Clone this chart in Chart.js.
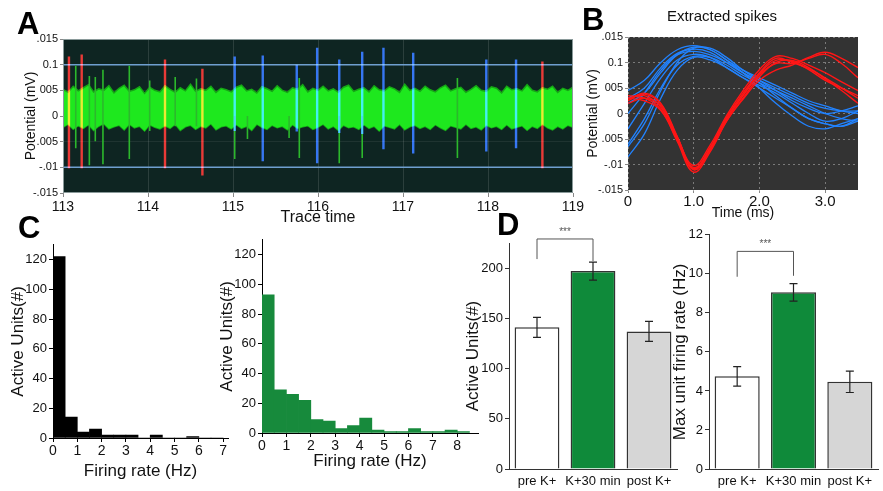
<!DOCTYPE html>
<html>
<head>
<meta charset="utf-8">
<script src="https://cdn.jsdelivr.net/npm/chart.js@4.4.1/dist/chart.umd.min.js"></script>
<style>
body { margin:0; background:#fff; width:883px; height:491px; overflow:hidden; position:relative; font-family:"Liberation Sans", Arial, sans-serif; }
canvas { position:absolute; }
.lbl { position:absolute; font-weight:bold; line-height:1; color:#000; }
.ttl { position:absolute; font-size:15px; line-height:1; color:#111; }
</style>
</head>
<body>
<canvas id="cA" style="left:0;top:30px" width="590" height="200"></canvas>
<canvas id="cB" style="left:580px;top:0" width="303" height="225"></canvas>
<canvas id="cC1" style="left:0;top:235px" width="240" height="255"></canvas>
<canvas id="cC2" style="left:215px;top:230px" width="265" height="255"></canvas>
<canvas id="cD1" style="left:460px;top:225px" width="222" height="266"></canvas>
<canvas id="cD2" style="left:660px;top:225px" width="223" height="266"></canvas>
<div class="lbl" style="left:17px;top:8px;font-size:31px">A</div>
<div class="lbl" style="left:582px;top:4px;font-size:31px">B</div>
<div class="lbl" style="left:18px;top:212px;font-size:31px">C</div>
<div class="lbl" style="left:497px;top:209px;font-size:31px">D</div>
<div class="ttl" style="left:667px;top:8px">Extracted spikes</div>
<script>
// ---- A: raw trace (values in 1e-3 units, labelled as in the figure)
var traceStart = 113, traceEnd = 119;
var traceUpper = [
  5.2,4.6,5.8,4.9,5.5,6.1,4.7,5.3,5.0,5.9,
  4.5,5.4,6.0,4.8,5.1,5.7,4.4,5.6,5.0,4.7,
  5.9,5.2,4.6,5.5,4.9,6.2,4.8,5.3,5.0,5.8,
  4.6,5.4,5.1,4.7,5.6,6.0,4.9,5.2,4.5,5.7,
  5.3,4.8,5.9,5.0,4.6,5.5,5.2,6.1,4.7,5.4,
  5.0,5.8,4.9,5.3,4.6,5.6,6.0,4.8,5.2,5.5,
  4.7,5.9,5.1,4.9,5.7,5.3,4.6,6.2,5.0,5.4,
  4.8,5.8,5.1,4.7,5.5,6.0,4.9,5.3,5.6,4.6,
  5.2,5.9,5.0,4.8,5.7,5.4,4.5,5.8,5.1,5.3,
  4.9,6.1,5.0,4.7,5.5,5.2,5.8,4.6,5.4,5.0,
  5.6];
var traceLower = [
  -2.2,-1.6,-2.6,-1.9,-2.4,-1.7,-2.8,-2.0,-1.5,-2.5,
  -2.1,-1.8,-2.7,-1.6,-2.3,-2.0,-2.9,-1.7,-2.2,-2.5,
  -1.9,-2.4,-1.6,-2.8,-2.1,-1.8,-2.6,-2.0,-2.3,-1.5,
  -2.7,-2.1,-1.9,-2.5,-1.7,-2.4,-2.0,-2.8,-1.6,-2.2,
  -2.6,-1.8,-2.3,-2.0,-2.7,-1.7,-2.4,-2.1,-1.9,-2.6,
  -2.2,-1.6,-2.5,-2.0,-2.8,-1.8,-2.3,-2.1,-2.6,-1.7,
  -2.4,-2.0,-2.9,-1.9,-2.2,-2.5,-1.6,-2.7,-2.1,-1.8,
  -2.4,-2.0,-2.6,-1.7,-2.3,-2.8,-1.9,-2.2,-2.5,-1.6,
  -2.4,-2.1,-2.7,-1.8,-2.3,-2.0,-2.6,-1.7,-2.5,-2.2,
  -1.9,-2.8,-2.0,-2.4,-1.6,-2.3,-2.7,-2.0,-2.5,-1.8,
  -2.2];
var redSpikeT  = [113.07, 113.22, 114.20, 114.64, 118.64];
var redSpikeHi = [11.6, 12.0, 11.0, 9.2, 10.6];
var redSpikeLo = [-10.2, -10.2, -10.2, -11.6, -10.2];
var blueSpikeT  = [115.02, 115.35, 115.75, 115.99, 116.25, 116.52, 116.77, 117.12, 117.98, 118.33];
var blueSpikeHi = [11.6, 11.8, 10.0, 13.3, 11.0, 12.5, 13.3, 12.3, 11.0, 11.0];
var blueSpikeLo = [-2.9, -8.8, -3.0, -9.2, -3.3, -3.5, -6.5, -7.3, -6.9, -6.3];
var greenSpikeT  = [113.15, 113.31, 113.38, 113.47, 113.78, 114.02, 114.32, 114.57, 115.02, 115.17, 115.66, 115.78, 116.25, 116.52, 117.64];
var greenSpikeHi = [9.8, 7.8, 7.6, 9.0, 9.8, 6.9, 7.6, 7.3, 0, 0, 0, 7.4, 0, 0, 7.4];
var greenSpikeLo = [-6.3, -9.6, -4.9, -9.4, -8.4, -2.9, -2.0, -2.0, -8.4, -4.5, -4.3, -8.2, -9.2, -8.2, -8.2];
var thresholds = [10, -10];
var potTicks = [-15, -10, -5, 0, 5, 10, 15];
var potTickText = ['-.015', '-.01', '.005', '0', '005', '0.1', '.015'];

// ---- B: extracted spike waveforms
var spikeTime = [0, 0.25, 0.5, 0.75, 1.0, 1.25, 1.5, 1.75, 2.0, 2.25, 2.5, 2.75, 3.0, 3.25, 3.5];
var blueUnits = [
  [4.5, 6.5, 10, 12.5, 13.3, 12.5, 10.5, 8.5, 7, 5.5, 4, 2.5, 1.5, 0.5, 0],
  [3, 5, 9, 11.8, 12.6, 12, 10, 8, 6.5, 5, 3.5, 2, 1, 0.5, 0.5],
  [-3, 2, 7, 10.5, 11.6, 11, 9, 7, 5.5, 4, 2, 0, -1.5, -1, 0.5],
  [-6, -1, 5, 9.5, 11.2, 11, 9.5, 7.5, 6, 4.5, 3, 1.5, 0, -1, -1.5],
  [-8.5, -4, 3, 8.5, 11, 10.5, 9, 7, 5, 3, 1, -1, -2, -2.5, -1.5],
  [0, 4, 8.5, 11.5, 12.2, 11.5, 10, 8, 5, 2, -0.5, -2.5, -3, -2, -1],
  [-6.5, -2, 4.5, 10, 12.8, 12.8, 11, 8.5, 6.5, 4.5, 2.5, 1, 0, 0.5, 1.5],
  [2, 4, 8, 11.5, 13, 12.5, 10.5, 8, 6, 3.5, 1, -1, -2, -2.5, -1]
];
var redUnits = [
  [3, 3.5, 1.2, -5, -10.8, -6.7, -0.8, 4, 8, 10.8, 10, 8.8, 7, 5, 3],
  [2.5, 4, 2, -4.5, -11, -7, -1.2, 3.5, 7.8, 10.4, 10.2, 8.6, 6.5, 5, 3.5],
  [3.5, 3, 0.8, -5.5, -11.5, -7.5, -1.5, 3, 7.2, 10, 10.4, 9, 6.8, 4.5, 2],
  [2, 3, 1.5, -4.8, -10.2, -6.2, -0.4, 4.5, 8.6, 11.2, 10.8, 9.5, 8, 6.2, 4.5],
  [3, 2.5, 0.6, -5.2, -11, -7.2, -1.5, 2.8, 6.5, 8.5, 9.5, 11, 12, 10.8, 9],
  [2.8, 3.8, 1.8, -4.6, -10.6, -6.8, -1, 3.6, 7.6, 9.8, 9.8, 10.8, 11.6, 9.8, 7]
];
var spikeTimeTicks = [0, 1, 2, 3];
var spikeTimeText = ['0', '1.0', '2.0', '3.0'];

// ---- C: firing rate histograms
var binsPre = [0.25, 0.75, 1.25, 1.75, 2.25, 2.75, 3.25, 3.75, 4.25, 4.75, 5.25, 5.75, 6.25, 6.75];
var countsPre = [122, 14, 4, 6, 2, 2, 2, 0, 2, 0, 0, 1, 0, 0];
var binsK = [0.25, 0.75, 1.25, 1.75, 2.25, 2.75, 3.25, 3.75, 4.25, 4.75, 5.25, 5.75, 6.25, 6.75, 7.25, 7.75, 8.25];
var countsK = [93, 29, 26, 22, 9, 8, 3, 5, 10, 2, 1, 1, 3, 1, 1, 2, 1];

// ---- D: group means
var groups = ['pre K+', 'K+30 min', 'post K+'];
var unitsMean = [141, 197, 137];
var unitsErr = [10, 9, 10];
var rateMean = [4.75, 9.05, 4.47];
var rateErr = [0.5, 0.45, 0.55];
var groupColors = ['#ffffff', '#0f8a3a', '#d6d6d6'];

Chart.defaults.font.family = '"Liberation Sans", Arial, sans-serif';
Chart.defaults.color = '#111';

function keepTicks(vals) {
  return function (scale) { scale.ticks = vals.map(function (v) { return { value: v }; }); };
}
function fixW(w) { return function (s) { s.width = w; }; }
function fixH(h) { return function (s) { s.height = h; }; }
function pts(xs, ys) { return xs.map(function (x, i) { return { x: x, y: ys[i] }; }); }
function spikeData(ts, hi, lo) {
  var d = [];
  ts.forEach(function (t, i) { d.push({ x: t, y: hi[i] }, { x: t, y: lo[i] }, { x: t, y: null }); });
  return d;
}
function range(a, b, step) { var r = []; for (var v = a; v <= b + 1e-9; v += step) r.push(v); return r; }

var areaBg = {
  id: 'areaBg',
  beforeDraw: function (chart, args, o) {
    var a = chart.chartArea, c = chart.ctx;
    c.save(); c.fillStyle = o.color; c.fillRect(a.left, a.top, a.width, a.height); c.restore();
  },
  afterDraw: function (chart, args, o) {
    if (!o.frame) return;
    var a = chart.chartArea, c = chart.ctx;
    c.save(); c.strokeStyle = o.frame; c.lineWidth = 1;
    c.strokeRect(a.left + 0.5, a.top + 0.5, a.width - 1, a.height - 1); c.restore();
  }
};

// spikes are screened over the trace so they tint where they cross it
var blend = {
  id: 'blend',
  beforeDatasetDraw: function (chart, args) {
    var ds = chart.data.datasets[args.index];
    if (ds.blend) { chart.ctx.save(); chart.ctx.globalCompositeOperation = ds.blend; }
  },
  afterDatasetDraw: function (chart, args) {
    if (chart.data.datasets[args.index].blend) chart.ctx.restore();
  }
};

var errorBars = {
  id: 'errorBars',
  afterDatasetsDraw: function (chart, args, o) {
    var meta = chart.getDatasetMeta(0), y = chart.scales.y, c = chart.ctx;
    c.save();
    c.strokeStyle = '#222'; c.lineWidth = 1.2;
    o.mean.forEach(function (m, i) {
      var x = meta.data[i].x, t = y.getPixelForValue(m + o.err[i]), b = y.getPixelForValue(m - o.err[i]);
      c.beginPath();
      c.moveTo(x, t); c.lineTo(x, b);
      c.moveTo(x - 4, t); c.lineTo(x + 4, t);
      c.moveTo(x - 4, b); c.lineTo(x + 4, b);
      c.stroke();
    });
    var x0 = meta.data[o.pair[0]].x, x1 = meta.data[o.pair[1]].x, yt = y.getPixelForValue(o.top);
    c.strokeStyle = '#555'; c.lineWidth = 1;
    c.beginPath();
    c.moveTo(x0, y.getPixelForValue(o.feet[0])); c.lineTo(x0, yt);
    c.lineTo(x1, yt); c.lineTo(x1, y.getPixelForValue(o.feet[1]));
    c.stroke();
    c.fillStyle = '#555'; c.font = '10px "Liberation Sans", Arial'; c.textAlign = 'center';
    c.fillText('***', (x0 + x1) / 2, yt - 4);
    c.restore();
  }
};

var noPlug = { legend: { display: false }, tooltip: { enabled: false } };
function plugOpts(extra) { var p = { legend: { display: false }, tooltip: { enabled: false } }; for (var k in extra) p[k] = extra[k]; return p; }

// ---------- A ----------
var traceX = traceUpper.map(function (v, i) { return traceStart + i * (traceEnd - traceStart) / (traceUpper.length - 1); });
var thrSets = thresholds.map(function (v) {
  return { data: [{ x: traceStart, y: v }, { x: traceEnd, y: v }], borderColor: '#6f9fcf', borderWidth: 1.5, pointRadius: 0 };
});
// first dataset is drawn on top: spikes first, trace band last
new Chart(document.getElementById('cA'), {
  type: 'line',
  data: {
    datasets: [
      { data: spikeData(redSpikeT, redSpikeHi, redSpikeLo), borderColor: '#e81818', borderWidth: 2.4, pointRadius: 0, spanGaps: false, blend: 'screen' },
      { data: spikeData(blueSpikeT, blueSpikeHi, blueSpikeLo), borderColor: '#2a5ff0', borderWidth: 2.4, pointRadius: 0, spanGaps: false, blend: 'screen' },
      { data: spikeData(greenSpikeT, greenSpikeHi, greenSpikeLo), borderColor: '#2cb82c', borderWidth: 1.6, pointRadius: 0, spanGaps: false }
    ].concat(thrSets).concat([
      { data: pts(traceX, traceUpper), borderColor: '#16a616', borderWidth: 1.5, backgroundColor: '#1ee81e', fill: '+1', pointRadius: 0, tension: 0 },
      { data: pts(traceX, traceLower), borderColor: '#16a616', borderWidth: 1.5, pointRadius: 0, fill: false, tension: 0 }
    ])
  },
  options: {
    responsive: false, animation: false,
    layout: { padding: { left: 0, right: 17, top: 9, bottom: 0 } },
    plugins: plugOpts({ areaBg: { color: '#0e2522', frame: '#8a9a9a' } }),
    scales: {
      x: {
        type: 'linear', min: traceStart, max: traceEnd, afterBuildTicks: keepTicks(range(113, 119, 1)),
        ticks: { font: { size: 14 }, padding: 2, maxRotation: 0 },
        grid: { color: 'rgba(255,255,255,0.12)', tickLength: 4, tickColor: '#888' },
        border: { display: false },
        title: { display: true, text: 'Trace time', font: { size: 16 }, padding: { top: 0, bottom: 3 } },
        afterFit: fixH(37)
      },
      y: {
        min: -15, max: 15, afterBuildTicks: keepTicks(potTicks),
        ticks: { font: { size: 11 }, padding: 2, callback: function (v) { return potTickText[potTicks.indexOf(v)]; } },
        grid: { color: 'rgba(255,255,255,0.07)', tickLength: 3, tickColor: '#888' },
        border: { display: false },
        title: { display: true, text: 'Potential (mV)', font: { size: 14 }, padding: { top: 23, bottom: 0 } },
        afterFit: fixW(63)
      }
    }
  },
  plugins: [areaBg, blend]
});

// ---------- B ----------
var wave = [];
redUnits.forEach(function (u) { wave.push({ data: pts(spikeTime, u), borderColor: '#ff1616', borderWidth: 1.4, pointRadius: 0, tension: 0.4 }); });
blueUnits.forEach(function (u) { wave.push({ data: pts(spikeTime, u), borderColor: '#2283ff', borderWidth: 1.3, pointRadius: 0, tension: 0.4 }); });
new Chart(document.getElementById('cB'), {
  type: 'line',
  data: { datasets: wave },
  options: {
    responsive: false, animation: false,
    layout: { padding: { left: 0, right: 25, top: 37, bottom: 0 } },
    plugins: plugOpts({ areaBg: { color: '#333333' } }),
    scales: {
      x: {
        type: 'linear', min: 0, max: 3.5, afterBuildTicks: keepTicks(spikeTimeTicks),
        ticks: { font: { size: 15 }, padding: 0, maxRotation: 0, callback: function (v) { return spikeTimeText[spikeTimeTicks.indexOf(v)]; } },
        grid: { color: 'rgba(255,255,255,0.35)', tickLength: 3, tickColor: '#888' },
        border: { display: false, dash: [2, 3] },
        title: { display: true, text: 'Time (ms)', font: { size: 14 }, padding: { top: 0, bottom: 3 } },
        afterFit: fixH(35)
      },
      y: {
        min: -15, max: 15, afterBuildTicks: keepTicks(potTicks),
        ticks: { font: { size: 11 }, padding: 2, callback: function (v) { return potTickText[potTicks.indexOf(v)]; } },
        grid: { color: 'rgba(255,255,255,0.35)', tickLength: 3, tickColor: '#888' },
        border: { display: false, dash: [2, 3] },
        title: { display: true, text: 'Potential (mV)', font: { size: 14 }, padding: { top: 5, bottom: 0 } },
        afterFit: fixW(48)
      }
    }
  },
  plugins: [areaBg]
});

// ---------- C ----------
function histogram(id, bins, counts, color, xMax, xTicks, pad, yW, xH, yTitlePad, xTitlePad) {
  new Chart(document.getElementById(id), {
    type: 'bar',
    data: { datasets: [{ data: pts(bins, counts), backgroundColor: color, borderWidth: 0, barPercentage: 1, categoryPercentage: 1 }] },
    options: {
      responsive: false, animation: false,
      layout: { padding: pad },
      plugins: noPlug,
      scales: {
        x: {
          type: 'linear', min: 0, max: xMax, offset: false, afterBuildTicks: keepTicks(xTicks),
          ticks: { font: { size: 14 }, padding: 1, maxRotation: 0 },
          grid: { drawOnChartArea: false, tickLength: 4, color: '#000', offset: false },
          border: { color: '#000' },
          title: { display: true, text: 'Firing rate (Hz)', font: { size: 17 }, padding: { top: 0, bottom: xTitlePad } },
          afterFit: fixH(xH)
        },
        y: {
          min: 0, max: 130, afterBuildTicks: keepTicks(range(0, 120, 20)),
          ticks: { font: { size: 13 }, padding: 2 },
          grid: { drawOnChartArea: false, tickLength: 4, color: '#000' },
          border: { color: '#000' },
          title: { display: true, text: 'Active Units(#)', font: { size: 17 }, padding: { top: yTitlePad, bottom: 0 } },
          afterFit: fixW(yW)
        }
      }
    }
  });
}
histogram('cC1', binsPre, countsPre, '#000000', 7.2, range(0, 7, 1), { left: 0, right: 12, top: 6, bottom: 0 }, 53, 52, 8, 8);
histogram('cC2', binsK, countsK, '#178a3c', 8.85, range(0, 8, 1), { left: 0, right: 2, top: 8, bottom: 0 }, 47, 52, 2, 13);

// ---------- D ----------
function groupBars(id, mean, err, yMax, yTicks, title, yTitlePad, padTop, bracket) {
  new Chart(document.getElementById(id), {
    type: 'bar',
    data: { labels: groups, datasets: [{ data: mean, backgroundColor: groupColors, borderColor: '#333', borderWidth: 1.5, barPercentage: 0.8, categoryPercentage: 1 }] },
    options: {
      responsive: false, animation: false,
      layout: { padding: { left: 0, right: 5, top: padTop, bottom: 0 } },
      plugins: plugOpts({ errorBars: { mean: mean, err: err, pair: bracket.pair, top: bracket.top, feet: bracket.feet } }),
      scales: {
        x: {
          ticks: { font: { size: 13 }, padding: 5, maxRotation: 0, autoSkip: false },
          grid: { drawOnChartArea: false, drawTicks: false },
          border: { color: '#333' },
          afterFit: fixH(22)
        },
        y: {
          min: 0, max: yMax, afterBuildTicks: keepTicks(yTicks),
          ticks: { font: { size: 13 }, padding: 2 },
          grid: { drawOnChartArea: false, tickLength: 4, color: '#333' },
          border: { color: '#333' },
          title: { display: true, text: title, font: { size: 17 }, padding: { top: yTitlePad, bottom: 0 } },
          afterFit: fixW(49)
        }
      }
    },
    plugins: [errorBars]
  });
}
groupBars('cD1', unitsMean, unitsErr, 225, range(0, 200, 50), 'Active Units(#)', 3, 18, { pair: [0, 1], top: 229, feet: [209, 207] });
groupBars('cD2', rateMean, rateErr, 12, range(0, 12, 2), 'Max unit firing rate (Hz)', 10, 4, { pair: [0, 1], top: 11.15, feet: [9.85, 9.9] });
</script>
</body>
</html>
